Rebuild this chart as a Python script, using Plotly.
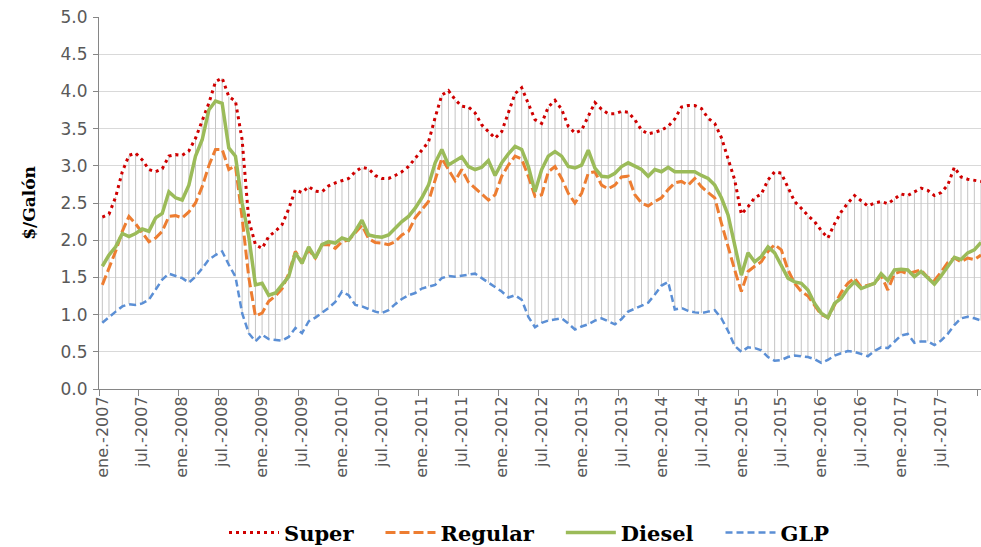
import plotly.graph_objects as go

# precios mensuales ene.-2007 .. ene.-2018 ($/galón)
super_ = [
    2.31, 2.35, 2.58, 2.92, 3.14, 3.17, 3.08, 2.95, 2.92, 2.96, 3.13, 3.15,  # 2007
    3.14, 3.20, 3.37, 3.62, 3.84, 4.13, 4.18, 3.93, 3.87, 3.35, 2.27, 1.94,  # 2008
    1.89, 2.05, 2.12, 2.21, 2.42, 2.68, 2.64, 2.72, 2.66, 2.65, 2.73, 2.77,  # 2009
    2.80, 2.83, 2.92, 2.98, 2.96, 2.87, 2.83, 2.83, 2.87, 2.92, 2.99, 3.10,  # 2010
    3.20, 3.32, 3.65, 3.95, 4.01, 3.89, 3.80, 3.79, 3.71, 3.55, 3.46, 3.37,  # 2011
    3.46, 3.72, 3.97, 4.05, 3.84, 3.62, 3.57, 3.79, 3.88, 3.76, 3.53, 3.44,  # 2012
    3.48, 3.67, 3.85, 3.76, 3.70, 3.70, 3.73, 3.72, 3.62, 3.48, 3.43, 3.45,  # 2013
    3.48, 3.53, 3.63, 3.79, 3.81, 3.81, 3.77, 3.64, 3.57, 3.38, 3.10, 2.81,  # 2014
    2.35, 2.45, 2.57, 2.62, 2.81, 2.92, 2.90, 2.70, 2.52, 2.43, 2.33, 2.25,  # 2015
    2.13, 2.03, 2.22, 2.38, 2.50, 2.60, 2.53, 2.46, 2.50, 2.52, 2.49, 2.56,  # 2016
    2.62, 2.60, 2.65, 2.70, 2.67, 2.60, 2.64, 2.74, 2.98, 2.85, 2.82, 2.80,  # 2017
    2.79,
]

regular = [
    1.40, 1.62, 1.85, 2.12, 2.32, 2.22, 2.10, 1.98, 2.03, 2.12, 2.32, 2.33,
    2.30, 2.38, 2.50, 2.72, 3.00, 3.22, 3.22, 2.95, 3.00, 2.30, 1.50, 0.98,
    1.02, 1.18, 1.25, 1.35, 1.55, 1.85, 1.71, 1.87, 1.76, 1.94, 1.94, 1.89,
    1.98, 2.00, 2.10, 2.20, 2.02, 1.97, 1.96, 1.94, 1.98, 2.07, 2.12, 2.30,
    2.41, 2.52, 2.81, 3.10, 2.95, 2.80, 2.95, 2.78, 2.70, 2.62, 2.54, 2.61,
    2.86, 3.01, 3.13, 3.09, 2.86, 2.59, 2.61, 2.92, 2.99, 2.83, 2.63, 2.50,
    2.63, 2.90, 2.92, 2.74, 2.69, 2.74, 2.85, 2.86, 2.61, 2.50, 2.46, 2.52,
    2.57, 2.68, 2.77, 2.79, 2.74, 2.83, 2.72, 2.64, 2.57, 2.23, 1.91, 1.60,
    1.31, 1.58, 1.65, 1.71, 1.85, 1.94, 1.87, 1.60, 1.42, 1.31, 1.25, 1.12,
    1.00, 0.96, 1.12, 1.30, 1.42, 1.49, 1.37, 1.40, 1.42, 1.53, 1.33, 1.55,
    1.58, 1.55, 1.57, 1.60, 1.50, 1.46, 1.57, 1.70, 1.76, 1.71, 1.76, 1.74,
    1.80,
]

diesel = [
    1.65, 1.80, 1.91, 2.09, 2.05, 2.09, 2.15, 2.12, 2.30, 2.36, 2.65, 2.57,
    2.54, 2.74, 3.13, 3.35, 3.75, 3.87, 3.84, 3.24, 3.13, 2.50, 2.05, 1.40,
    1.42, 1.26, 1.29, 1.40, 1.51, 1.83, 1.69, 1.91, 1.76, 1.94, 1.98, 1.96,
    2.03, 2.00, 2.12, 2.27, 2.07, 2.05, 2.04, 2.07, 2.16, 2.25, 2.32, 2.43,
    2.57, 2.74, 3.04, 3.22, 3.01, 3.06, 3.12, 2.99, 2.95, 2.98, 3.07, 2.87,
    3.04, 3.16, 3.26, 3.22, 2.99, 2.65, 2.95, 3.13, 3.19, 3.13, 2.99, 2.97,
    3.01, 3.21, 2.97, 2.86, 2.85, 2.90, 2.99, 3.04, 2.99, 2.95, 2.86, 2.95,
    2.92, 2.98, 2.92, 2.92, 2.91, 2.92, 2.87, 2.83, 2.74, 2.57, 2.34, 1.91,
    1.53, 1.83, 1.71, 1.78, 1.91, 1.83, 1.65, 1.49, 1.44, 1.42, 1.33, 1.15,
    1.02, 0.96, 1.15, 1.22, 1.35, 1.44, 1.35, 1.39, 1.42, 1.55, 1.46, 1.60,
    1.61, 1.60, 1.51, 1.58, 1.49, 1.41, 1.52, 1.65, 1.77, 1.74, 1.83, 1.87,
    1.97,
]

glp = [
    0.89, 0.97, 1.04, 1.11, 1.14, 1.13, 1.15, 1.20, 1.33, 1.47, 1.55, 1.52,
    1.49, 1.43, 1.51, 1.62, 1.74, 1.80, 1.85, 1.67, 1.51, 1.02, 0.75, 0.64,
    0.73, 0.67, 0.66, 0.65, 0.70, 0.82, 0.75, 0.91, 0.96, 1.02, 1.09, 1.17,
    1.31, 1.26, 1.13, 1.11, 1.07, 1.04, 1.02, 1.06, 1.14, 1.21, 1.26, 1.29,
    1.35, 1.38, 1.40, 1.49, 1.52, 1.51, 1.52, 1.54, 1.55, 1.49, 1.43, 1.38,
    1.31, 1.23, 1.26, 1.20, 0.97, 0.83, 0.89, 0.92, 0.94, 0.95, 0.88, 0.80,
    0.84, 0.87, 0.92, 0.95, 0.91, 0.87, 0.94, 1.04, 1.08, 1.12, 1.16, 1.27,
    1.39, 1.44, 1.07, 1.09, 1.05, 1.03, 1.02, 1.04, 1.06, 0.95, 0.78, 0.58,
    0.50, 0.56, 0.55, 0.52, 0.43, 0.38, 0.39, 0.43, 0.45, 0.44, 0.43, 0.40,
    0.35, 0.39, 0.45, 0.48, 0.51, 0.50, 0.47, 0.44, 0.51, 0.56, 0.55, 0.63,
    0.72, 0.74, 0.62, 0.64, 0.64, 0.59, 0.65, 0.74, 0.86, 0.95, 0.97, 0.95,
    0.92,
]

anios = list(range(2007, 2019))
tick_labels = []
for a in anios:
    tick_labels.append('ene.-{}'.format(a))
    if a < 2018:
        tick_labels.append('jul.-{}'.format(a))

meses = list(range(len(super_)))
tick_pos = list(range(0, len(super_), 6))

# lineas max-min de cada mes
hl_x, hl_y = [], []
for i in meses:
    vals = [super_[i], regular[i], diesel[i], glp[i]]
    hl_x += [i, i, None]
    hl_y += [max(vals), min(vals), None]

fig = go.Figure()

fig.add_trace(
    go.Scatter(
        x=hl_x,
        y=hl_y,
        mode='lines',
        line={'color': '#C4C4C4', 'width': 1},
        showlegend=False,
        hoverinfo='skip',
    )
)

pad = '\u00a0' * 3
series = [
    ('Super', super_, '#D00000', 3, '3px,4px'),
    ('Regular', regular, '#ED7D31', 3, '10px,4px'),
    ('Diesel', diesel, '#9BBB59', 3.5, 'solid'),
    ('GLP', glp, '#5B8FD5', 2.5, '7px,4px'),
]
for nombre, valores, color, ancho, trazo in series:
    fig.add_trace(
        go.Scatter(
            x=meses,
            y=valores,
            name=nombre + pad,
            mode='lines',
            line={'color': color, 'width': ancho, 'dash': trazo},
        )
    )

fig.update_layout(
    width=981,
    height=547,
    margin={'l': 99, 'r': 0, 't': 17, 'b': 158},
    paper_bgcolor='white',
    plot_bgcolor='white',
    legend=dict(
        orientation='h',
        x=0.5,
        xanchor='center',
        yref='container',
        y=0.026,
        yanchor='middle',
        font=dict(family='DejaVu Serif', size=21, color='black', weight='bold'),
        itemwidth=50,
    ),
    xaxis=dict(
        range=[-0.5, 132],
        automargin=False,
        tickmode='array',
        tickvals=tick_pos,
        ticktext=tick_labels,
        tickangle=-90,
        ticks='',
        tickfont=dict(family='DejaVu Sans', size=16, color='#595959'),
        showline=True,
        linecolor='#868686',
        linewidth=1,
        showgrid=False,
        zeroline=False,
        minor=dict(
            tickmode='array',
            tickvals=[p - 0.5 for p in tick_pos],
            ticks='outside',
            ticklen=6,
            tickcolor='#868686',
            showgrid=False,
        ),
    ),
    yaxis=dict(
        range=[0, 5],
        automargin=False,
        dtick=0.5,
        tickformat='.1f',
        ticks='outside',
        ticklen=5,
        tickcolor='#868686',
        tickfont=dict(family='DejaVu Sans', size=17, color='#595959'),
        ticklabelstandoff=2,
        showline=True,
        linecolor='#868686',
        linewidth=1,
        showgrid=True,
        gridcolor='#D9D9D9',
        zeroline=False,
        title=dict(
            text='$/Galón',
            font=dict(family='DejaVu Serif', size=17, color='black', weight='bold'),
            standoff=20,
        ),
    ),
)

# quitar el margen del body para que la figura quede en 0,0
fig.write_html(
    'out.html',
    config={'displayModeBar': False},
    post_script="document.body.style.margin='0';document.body.style.overflow='hidden';",
)
